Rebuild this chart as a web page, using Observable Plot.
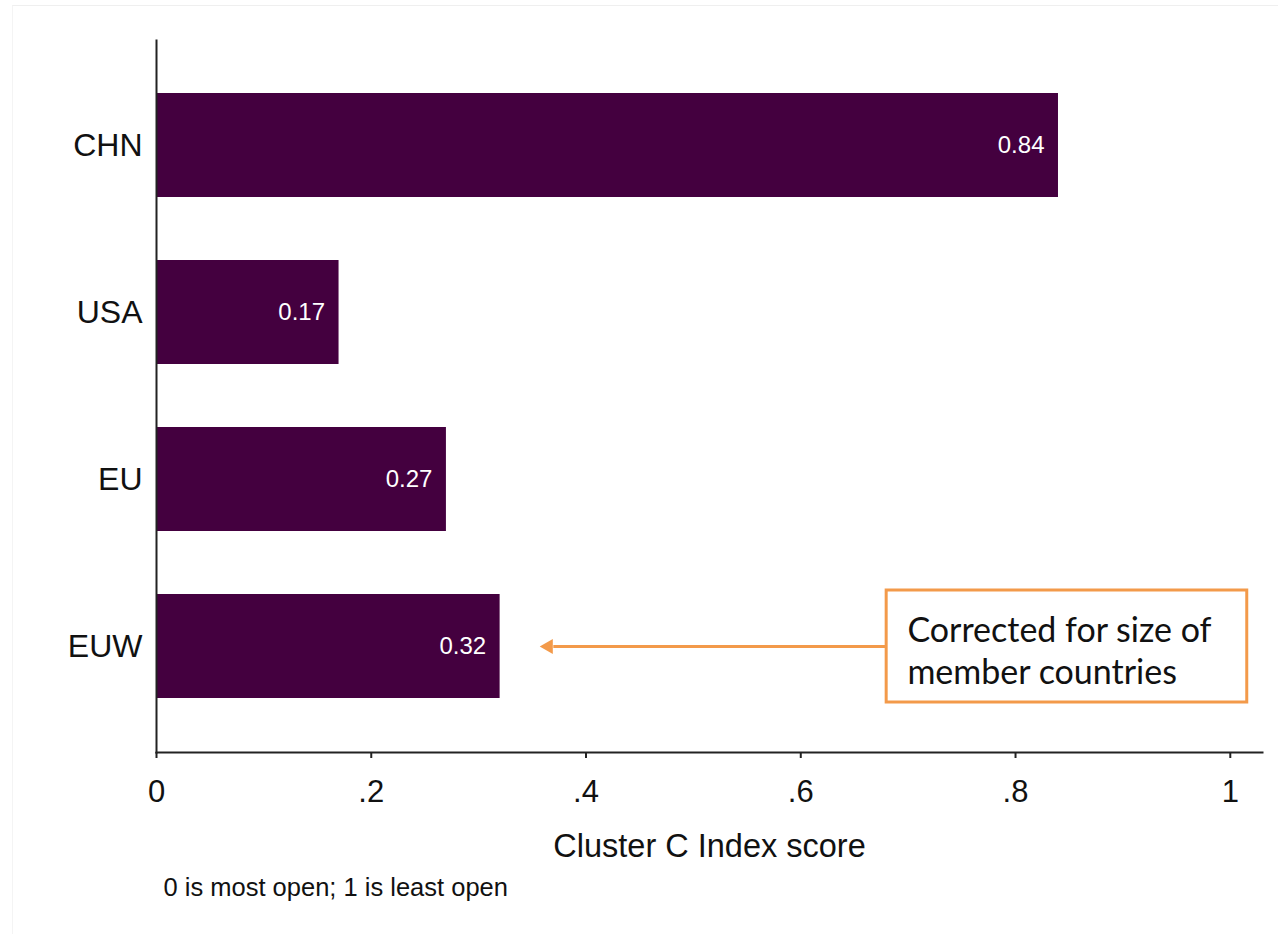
<!DOCTYPE html>
<html>
<head>
<meta charset="utf-8">
<script src="https://cdn.jsdelivr.net/npm/d3@7"></script>
<script src="https://cdn.jsdelivr.net/npm/@observablehq/plot@0.6"></script>
<style>
  html, body { margin: 0; padding: 0; background: #fff; }
  #wrap { position: relative; width: 1278px; height: 934px; overflow: hidden; }
  #edge { position: absolute; left: 12px; top: 5px; right: 0; bottom: 0;
          border-top: 1px solid #efefef; border-left: 1px solid #f4f4f4; pointer-events: none; }
</style>
</head>
<body>
<div id="wrap"><div id="edge"></div></div>
<script>
// Data
const countries = ["CHN", "USA", "EU", "EUW"];
const scores = [0.84, 0.17, 0.27, 0.32];
const xTicks = [0, 0.2, 0.4, 0.6, 0.8, 1];
const xTickLabels = ["0", ".2", ".4", ".6", ".8", "1"];
const axisTitle = "Cluster C Index score";
const note = "0 is most open; 1 is least open";
const annotationText = "Corrected for size of\nmember countries";
const annotationRow = "EUW";
const annotationBox = [{x1: 0.68, x2: 1.0158, y: annotationRow}];
const arrowLine = [{x1: 0.68, x2: 0.37, y: annotationRow}];
const arrowHead = [{x: 0.365, y: annotationRow}];
const annotationTextPos = [{x: 0.6993, y: annotationRow, text: annotationText}];

const data = countries.map((c, i) => ({country: c, score: scores[i]}));

const barColor = "#44003f";
const orange = "#f39a4a";
const axisColor = "#222";

const chart = Plot.plot({
  width: 1278,
  height: 934,
  marginTop: 40,
  marginBottom: 182,
  marginLeft: 156,
  marginRight: 16,
  style: {fontFamily: "'Liberation Sans', Arial, sans-serif", color: "#111", background: "transparent"},
  x: {domain: [0, 1.03]},
  y: {domain: countries, paddingInner: 0.377, paddingOuter: 0.32, align: 0.5},
  marks: [
    Plot.barX(data, {x: "score", y: "country", fill: barColor}),
    Plot.text(data, {x: "score", y: "country", text: d => d.score.toFixed(2),
      textAnchor: "end", dx: -14, fill: "white", fontSize: 24}),
    Plot.frame({anchor: "left", stroke: axisColor, strokeWidth: 2}),
    Plot.frame({anchor: "bottom", stroke: axisColor, strokeWidth: 2}),
    Plot.axisX({ticks: xTicks, tickFormat: (d, i) => xTickLabels[xTicks.indexOf(d)],
      tickSize: 6, tickPadding: 21, fontSize: 31, strokeWidth: 2, stroke: axisColor, label: null}),
    Plot.axisY({tickSize: 0, tickPadding: 14, fontSize: 32, label: null}),
    Plot.text([axisTitle], {frameAnchor: "bottom", text: d => d, lineAnchor: "bottom",
      dy: 104, fontSize: 32.5}),
    Plot.text([note], {frameAnchor: "bottom-left", text: d => d, lineAnchor: "bottom",
      textAnchor: "start", dx: 7, dy: 143, fontSize: 25.5}),
    Plot.barX(annotationBox, {x1: "x1", x2: "x2", y: "y", fill: "white", stroke: orange,
      strokeWidth: 3, insetTop: -4, insetBottom: -4}),
    Plot.text(annotationTextPos, {x: "x", y: "y", text: "text", textAnchor: "start",
      lineAnchor: "middle", lineHeight: 1.235, dy: 3, fontSize: 34,
      fontFamily: "Lato, 'Open Sans', sans-serif", fill: "#111"}),
    Plot.ruleY(arrowLine, {x1: "x1", x2: "x2", y: "y", stroke: orange, strokeWidth: 3}),
    Plot.dot(arrowHead, {x: "x", y: "y", symbol: "triangle2", rotate: -90, r: 7.2, fill: orange})
  ]
});
document.getElementById("wrap").prepend(chart);
</script>
</body>
</html>
